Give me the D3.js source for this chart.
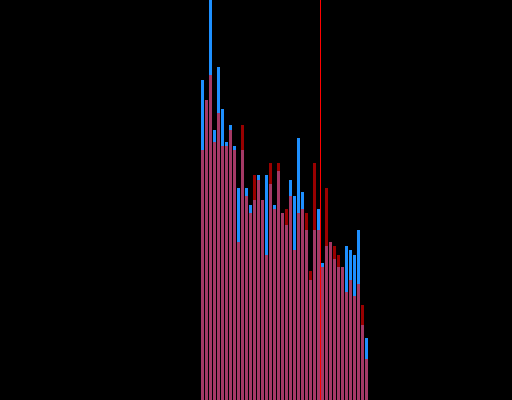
<!DOCTYPE html>
<html>
<head>
<meta charset="utf-8">
<script src="https://cdn.jsdelivr.net/npm/d3@7"></script>
<style>
  html, body { margin: 0; padding: 0; background: #000; overflow: hidden; }
  svg { display: block; }
</style>
</head>
<body>
<script>
// ---- data ----
const categories = d3.range(1, 43).map(String);
const blueValues = [320, 300, 400, 270, 333, 291, 258, 275, 254, 212, 250, 212, 195, 200, 225, 200, 225, 216, 195, 229, 187, 175, 220, 204, 262, 208, 170, 120, 170, 191, 137, 154, 158, 141, 133, 133, 154, 150, 145, 170, 75, 62];
const redValues  = [250, 300, 325, 258, 287, 254, 254, 270, 250, 158, 275, 204, 187, 225, 220, 200, 145, 237, 191, 237, 187, 191, 204, 150, 187, 191, 187, 129, 237, 170, 133, 212, 158, 154, 145, 133, 108, 120, 104, 116, 95, 41];
const markerCategory = "31";

// ---- layout ----
const W = 512, H = 400;
const svg = d3.select("body").append("svg").attr("width", W).attr("height", H);
svg.append("rect").attr("width", W).attr("height", H).attr("fill", "#000");

const x = d3.scaleBand().domain(categories).range([201, 368]).paddingInner(0.25).paddingOuter(0);
const y = d3.scaleLinear().domain([0, 400]).range([H, 0]);

const rows = categories.map((c, i) => ({ c, blue: blueValues[i], red: redValues[i] }));

svg.append("g").selectAll("rect").data(rows).join("rect")
  .attr("x", d => x(d.c))
  .attr("width", x.bandwidth())
  .attr("y", d => y(d.blue))
  .attr("height", d => H - y(d.blue))
  .attr("fill", "#1e90ff");

svg.append("g").selectAll("rect").data(rows).join("rect")
  .attr("x", d => x(d.c))
  .attr("width", x.bandwidth())
  .attr("y", d => y(d.red))
  .attr("height", d => H - y(d.red))
  .attr("fill", "#ff0000")
  .attr("fill-opacity", 0.6);

const mx = x(markerCategory) - x.step() * x.paddingInner() / 2;
svg.append("line")
  .attr("x1", mx).attr("x2", mx)
  .attr("y1", 0).attr("y2", H)
  .attr("stroke", "#ff0000")
  .attr("stroke-width", 1);
</script>
</body>
</html>
